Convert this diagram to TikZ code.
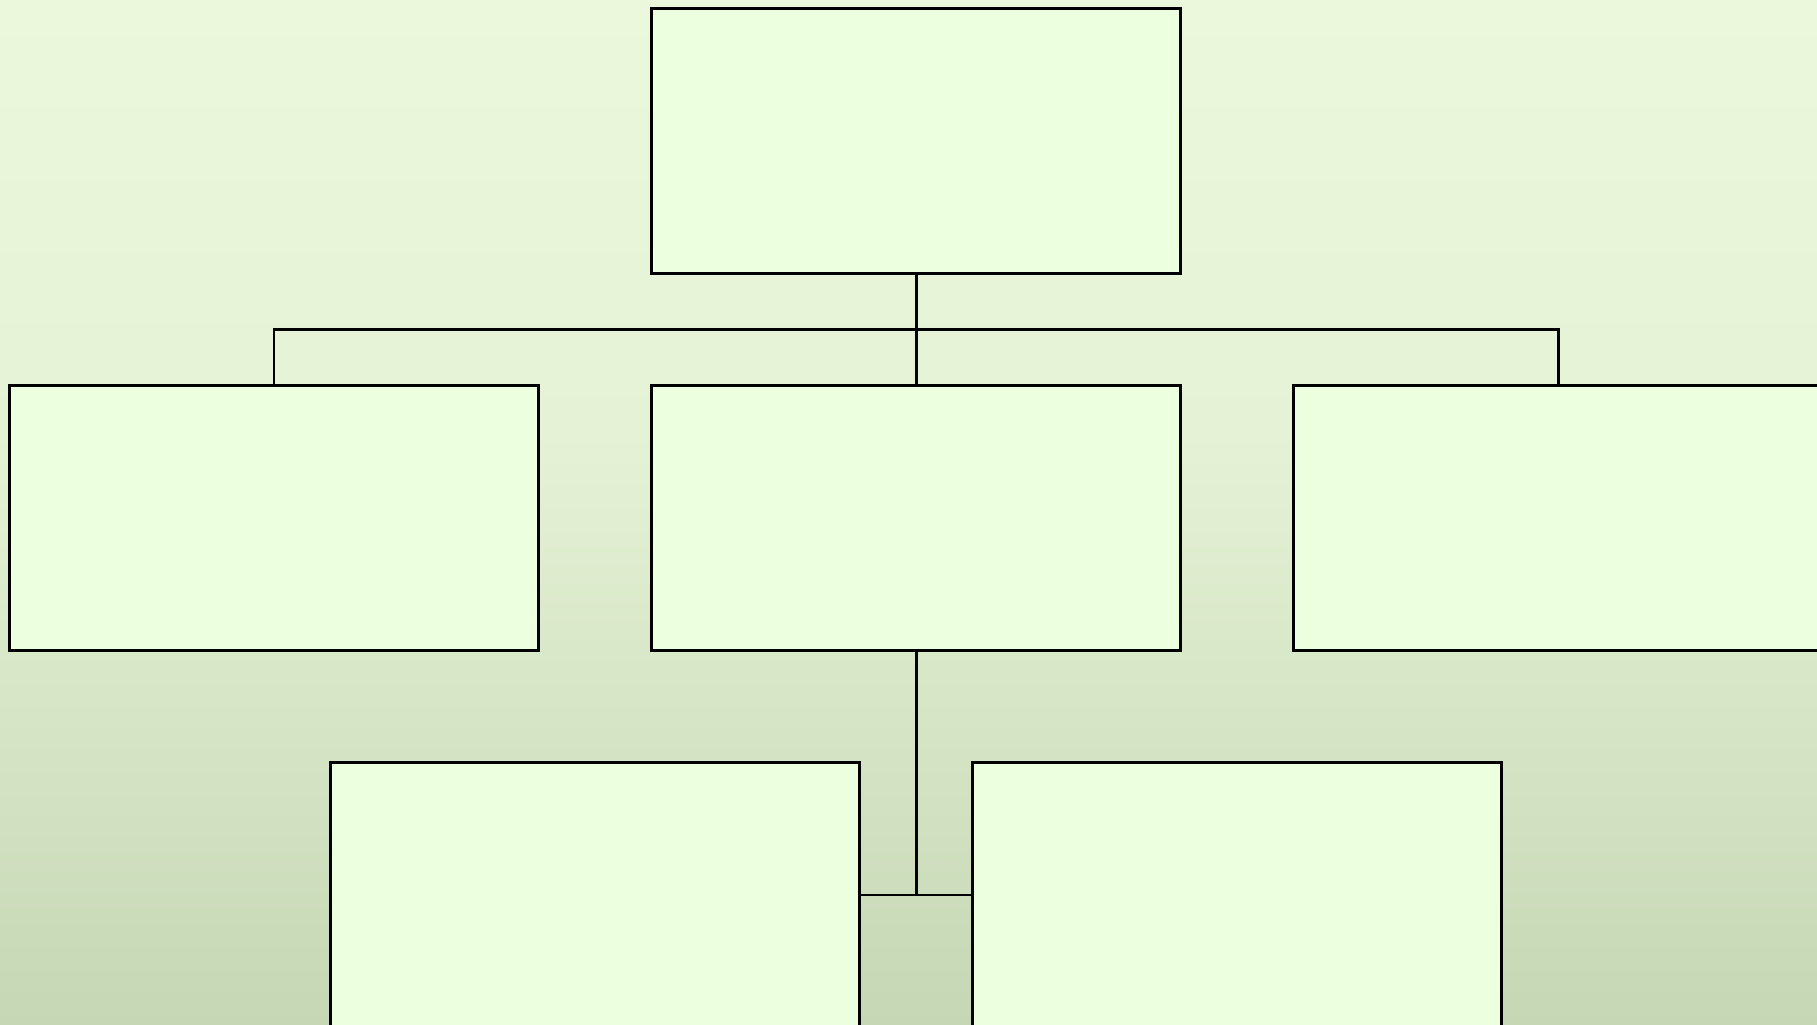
\documentclass[tikz,border=0pt]{standalone}
\usepackage{xcolor}
\usepackage{tikz}
\usetikzlibrary{calc}

\definecolor{bgtop}{RGB}{235,248,219}
\definecolor{bgmid}{RGB}{230,242,214}
\definecolor{bgbot}{RGB}{197,215,181}
\definecolor{boxfill}{RGB}{236,255,222}
\pgfdeclareverticalshading{bgfade}{100bp}{color(0bp)=(bgbot); color(25bp)=(bgbot); color(54bp)=(bgmid); color(75bp)=(bgtop); color(100bp)=(bgtop)}

\tikzset{
  orgbox/.style={draw, fill=boxfill, line width=0.85pt, rectangle, inner sep=0pt,
                 minimum width=5.296cm, minimum height=2.642cm},
  link/.style={line width=0.85pt}
}

\begin{document}
\begin{tikzpicture}[x=0.01cm, y=-0.01cm]

\useasboundingbox (0,0) rectangle (1817,1025);
\shade[shading=bgfade] (0,0) rectangle (1817,1025);		% Hintergrund verlauf

\node[orgbox] (top) at (916,141) {};					% oberste ebene

\node[orgbox] (mleft) at (274,518) {};					% mittlere ebene
\node[orgbox] (mid) at (916,518) {};
\node[orgbox] (mright) at (1558,518) {};

\node[orgbox] (bleft) at (595,895) {};					% untere ebene
\node[orgbox] (bright) at (1237,895) {};

\coordinate (bus) at ($(top.south)!0.5!(mid.north)$);

\draw[link] (top.south) -- (mid.north);					% verbindung oben
\draw[link] (mleft.north) |- (bus) -| (mright.north);

\draw[link] (mid.south) -- (mid.south |- bleft.east);	% verbindung unten
\draw[link] (bleft.east) -- (bright.west);

\end{tikzpicture}
\end{document}
